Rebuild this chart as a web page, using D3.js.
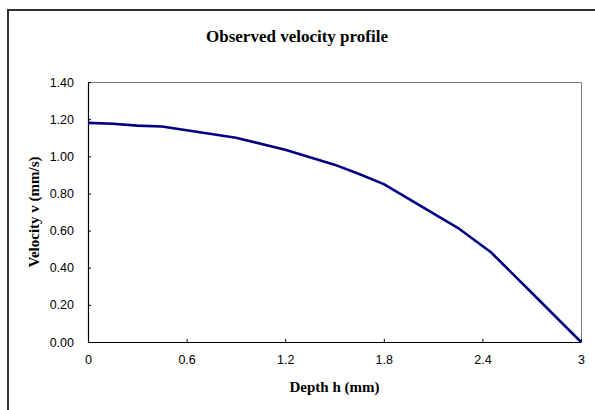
<!DOCTYPE html>
<html>
<head>
<meta charset="utf-8">
<script src="https://cdn.jsdelivr.net/npm/d3@7"></script>
<style>
  body { margin: 0; background: #fff; }
  .tick text { font-family: "Liberation Sans", Arial, sans-serif; font-size: 12.5px; fill: #000; }
  .axis-title { font-family: "Liberation Serif", "Times New Roman", serif; font-weight: bold; font-size: 15px; }
</style>
</head>
<body>
<svg id="chart"></svg>
<script>
// depth h (mm) and observed velocity v (mm/s)
var depth    = [0, 0.15, 0.3, 0.45, 0.9, 1.2, 1.5, 1.65, 1.8, 2.25, 2.45, 2.7, 3.0];
var velocity = [1.18, 1.175, 1.165, 1.16, 1.10, 1.035, 0.955, 0.905, 0.85, 0.615, 0.485, 0.265, 0.0];
var xTicks = [0, 0.6, 1.2, 1.8, 2.4, 3];
var yTicks = [0, 0.2, 0.4, 0.6, 0.8, 1.0, 1.2, 1.4];

var W = 595, H = 410;
var plot = {left: 88, top: 82, right: 581, bottom: 342};

var svg = d3.select("#chart")
	.attr("width", W)
	.attr("height", H);

// outer chart border (runs off the right and bottom edges)
svg.append("rect")
	.attr("x", 8).attr("y", 10)
	.attr("width", W + 20).attr("height", H + 20)
	.attr("fill", "#fff")
	.attr("stroke", "#333")
	.attr("stroke-width", 2);

var x = d3.scaleLinear().domain([0, 3]).range([plot.left, plot.right]);
var y = d3.scaleLinear().domain([0, 1.4]).range([plot.bottom, plot.top]);

// top and right frame of plot area
svg.append("path")
	.attr("d", "M" + plot.left + "," + (plot.top + 0.5) + "H" + (plot.right + 0.5) + "V" + plot.bottom)
	.attr("fill", "none")
	.attr("stroke", "#808080")
	.attr("stroke-width", 1);

var xAxis = svg.append("g")
	.attr("transform", "translate(0," + plot.bottom + ")")
	.call(d3.axisBottom(x).tickValues(xTicks).tickSizeInner(-3).tickSizeOuter(0).tickPadding(13)
		.tickFormat(function (d) { return String(d); }));

var yAxis = svg.append("g")
	.attr("transform", "translate(" + plot.left + ",0)")
	.call(d3.axisLeft(y).tickValues(yTicks).tickSizeInner(-3).tickSizeOuter(0).tickPadding(14)
		.tickFormat(d3.format(".2f")));

svg.selectAll(".domain").attr("stroke", "#000").attr("stroke-width", 1.2);
svg.selectAll(".tick line").attr("stroke", "#000");

// curve
var pts = depth.map(function (d, i) { return [d, velocity[i]]; });
svg.append("path")
	.datum(pts)
	.attr("fill", "none")
	.attr("stroke", "#000080")
	.attr("stroke-width", 2.6)
	.attr("stroke-linejoin", "round")
	.attr("d", d3.line()
		.x(function (d) { return x(d[0]); })
		.y(function (d) { return y(d[1]); }));

svg.append("text")
	.attr("class", "axis-title")
	.attr("x", 297).attr("y", 42)
	.attr("text-anchor", "middle")
	.style("font-size", "17px")
	.text("Observed velocity profile");

svg.append("text")
	.attr("class", "axis-title")
	.attr("x", (plot.left + plot.right) / 2).attr("y", 392)
	.attr("text-anchor", "middle")
	.text("Depth h (mm)");

svg.append("text")
	.attr("class", "axis-title")
	.attr("transform", "translate(39," + ((plot.top + plot.bottom) / 2) + ") rotate(-90)")
	.attr("text-anchor", "middle")
	.text("Velocity v (mm/s)");
</script>
</body>
</html>
